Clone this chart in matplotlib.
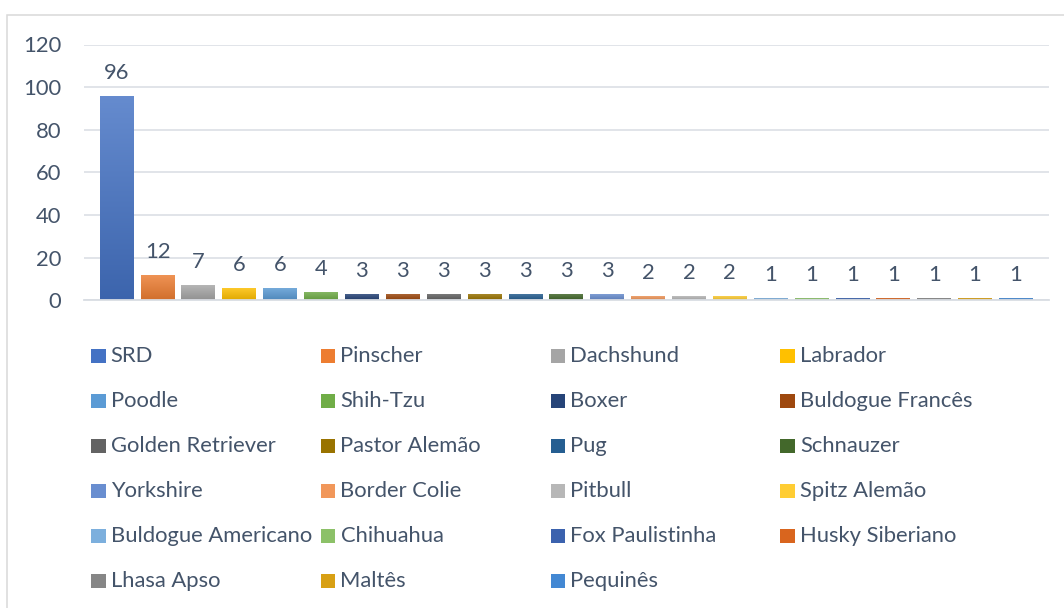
import numpy as np
import matplotlib
matplotlib.use('Agg')
from matplotlib import pyplot as plt
from matplotlib.colors import LinearSegmentedColormap, to_rgb
from matplotlib.patches import Rectangle

plt.rcParams['font.family'] = ['Lato', 'DejaVu Sans']

breeds = ['SRD', 'Pinscher', 'Dachshund', 'Labrador', 'Poodle', 'Shih-Tzu',
          'Boxer', 'Buldogue Francês', 'Golden Retriever', 'Pastor Alemão',
          'Pug', 'Schnauzer', 'Yorkshire', 'Border Colie', 'Pitbull',
          'Spitz Alemão', 'Buldogue Americano', 'Chihuahua', 'Fox Paulistinha',
          'Husky Siberiano', 'Lhasa Apso', 'Maltês', 'Pequinês']
counts = [96, 12, 7, 6, 6, 4, 3, 3, 3, 3, 3, 3, 3, 2, 2, 2, 1, 1, 1, 1, 1, 1, 1]
colors = ['#4472C4', '#ED7D31', '#A5A5A5', '#FFC000', '#5B9BD5', '#70AD47',
          '#264478', '#9E480E', '#636363', '#997300', '#255E91', '#43682B',
          '#698ED0', '#F1975A', '#B7B7B7', '#FFCD33', '#7CAFDD', '#8CC168',
          '#3B62AE', '#D9651E', '#868686', '#D8A014', '#4388D3']
yticks = [0, 20, 40, 60, 80, 100, 120]

W, H = 1064, 608
txt_color = '#44546A'
grid_color = '#D9DDE3'
fs = 15.8


def mix(c, other, t):
    c = np.array(to_rgb(c))
    return tuple(c * (1 - t) + np.array(other) * t)


fig = plt.figure(figsize=(W / 100, H / 100), dpi=100)

# chart area border (cut by the picture edge on the right and bottom)
fig.add_artist(Rectangle((7 / W, -0.1), 1.2, (H - 15) / H + 0.1, transform=fig.transFigure,
                         fill=False, edgecolor='#D9D9D9', linewidth=1.1))

left, right, top, bottom = 84, 1048.7, 44.5, 300.3
ax = fig.add_axes([left / W, (H - bottom) / H, (right - left) / W, (bottom - top) / H])

x = np.arange(len(breeds))
bars = ax.bar(x, counts, width=0.83, color=colors, zorder=2)

# vertical gradient inside each bar, lighter at the top
grad = np.linspace(0, 1, 256).reshape(-1, 1)
for b, c in zip(bars, colors):
    cmap = LinearSegmentedColormap.from_list('g', [mix(c, (0, 0, 0), 0.12), mix(c, (1, 1, 1), 0.18)])
    im = ax.imshow(grad, cmap=cmap, origin='lower', aspect='auto', zorder=3,
                   extent=[b.get_x(), b.get_x() + b.get_width(), 0, b.get_height()])
    im.set_clip_path(b)

for xi, v in zip(x, counts):
    ax.annotate(str(v), (xi, v), xytext=(0, 12.2), textcoords='offset points',
                ha='center', va='baseline', fontsize=fs, color=txt_color)

ax.set_xlim(-0.8, len(breeds) - 0.2)
ax.set_ylim(0, 120)
ax.set_yticks(yticks)
ax.set_xticks([])
ax.tick_params(axis='y', length=0, pad=16.5, labelsize=fs, labelcolor=txt_color)
ax.grid(axis='y', color=grid_color, linewidth=1.1, zorder=0)
ax.set_axisbelow(True)
for s in ['top', 'right', 'left']:
    ax.spines[s].set_visible(False)
ax.spines['bottom'].set_color(grid_color)
ax.spines['bottom'].set_linewidth(1.3)
ax.spines['bottom'].set_zorder(4)

# legend laid out like Excel: 4 equal columns, filled row by row
col_x = [91 + 229.8 * c for c in range(4)]
row_y = [356 + 45 * r for r in range(6)]
sq = 14.5
for i, (name, c) in enumerate(zip(breeds, colors)):
    r, col = divmod(i, 4)
    x0, yc = col_x[col], row_y[r]
    fig.add_artist(Rectangle((x0 / W, (H - yc - sq / 2) / H), sq / W, sq / H,
                             transform=fig.transFigure, facecolor=c, edgecolor='none'))
    fig.text((x0 + 19.7) / W, (H - yc - 6.3) / H, name, fontsize=fs, color=txt_color,
             ha='left', va='baseline')

plt.savefig('out.png', dpi=100)
